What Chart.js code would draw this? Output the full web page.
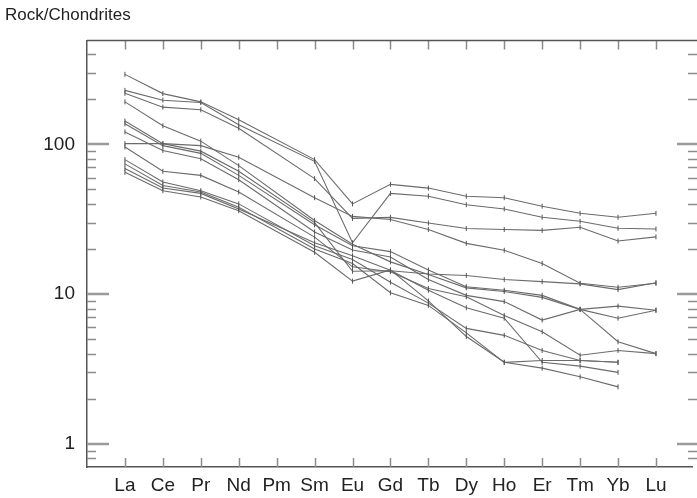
<!DOCTYPE html>
<html>
<head>
<meta charset="utf-8">
<script src="https://cdn.jsdelivr.net/npm/chart.js@4"></script>
<style>
  html, body { margin: 0; padding: 0; background: #fff; }
  #wrap { width: 697px; height: 498px; }
</style>
</head>
<body>
<div id="wrap"><canvas id="chart"></canvas></div>
<script>
// REE elements, chondrite normalized (Pm not analysed)
const categories = ['La', 'Ce', 'Pr', 'Nd', 'Pm', 'Sm', 'Eu', 'Gd', 'Tb', 'Dy', 'Ho', 'Er', 'Tm', 'Yb', 'Lu']

const sampleA = [293, 218, 192, 146, null, 79, 40, 54, 51, 45, 44, 38.6, 34.6, 32.6, 34.6]
const sampleB = [229, 197, 190, 135, null, 77, 22, 47, 45, 39.5, 37, 32.6, 30.6, 27.5, 27.2]
const sampleC = [219, 177, 170, 128, null, 59, 32, 32.5, 29.8, 27.4, 27, 26.6, 27.9, 22.6, 24.1]
const sampleD = [101, 101, 98, 82, null, 44, 33, 31.5, 27, 21.8, 19.6, 16, 11.8, 11.1, 11.8]
const sampleE = [143, 101, 90, 66, null, 30, 14.2, 14.3, 13.6, 13.3, 12.5, 12.1, 11.7, 10.7, 11.9]
const sampleF = [137, 98, 87, 62, null, 29, 21, 19.2, 14.5, 11.2, 10.6, 9.8, 7.9, 6.9, 7.8]
const sampleG = [121, 91, 80, 58, null, 26, 19.7, 17.7, 12.5, 9.8, 8.9, 6.7, 7.9, 8.3, 7.8]
const sampleH = [192, 133, 105, 72, null, 31, 21.5, 16.4, 13.5, 11, 10.4, 9.5, 7.9, 4.8, 4.0]
const sampleI = [96, 66, 62, 48, null, 24, 15.2, 14.1, 10.9, 9.6, 7.2, 5.6, 3.9, 4.2, 4.0]
const sampleJ = [79, 56, 49, 40, null, 21, 17, 12, 8.7, 5.9, 5.3, 4.2, 3.6, 3.5, null]
const sampleK = [74, 53, 48, 38, null, 20, 16, 10.2, 8.4, 5.5, 3.5, 3.6, 3.6, 3.5, null]
const sampleL = [69, 51, 47, 37, null, 22, 18, 14.4, 10.6, 8.1, 6.9, 3.5, 3.3, 3.0, null]
const sampleM = [65, 49, 44.5, 36, null, 19, 12.2, 14.5, 9, 5.2, 3.5, 3.2, 2.8, 2.4, null]

const samples = [sampleA, sampleB, sampleC, sampleD, sampleE, sampleF, sampleG,
                 sampleH, sampleI, sampleJ, sampleK, sampleL, sampleM]

// y axis ticks
const majorTicks = [1, 10, 100]
const minorTicks = [0.8, 0.9, 2, 3, 4, 5, 6, 7, 8, 9, 20, 30, 40, 50, 60, 70, 80, 90, 200, 300, 400]

const FONT = "'Liberation Sans', Arial, sans-serif"

// Frame ticks pointing inward, like the original plot
const innerTicks = {
  id: 'innerTicks',
  afterDraw(chart) {
    const { ctx, chartArea: a, scales } = chart
    const right = chart.width
    ctx.save()
    ctx.lineCap = 'butt'

    ctx.strokeStyle = '#8c8c8c'
    ctx.lineWidth = 1.5
    minorTicks.forEach(v => {
      const y = Math.round(scales.y.getPixelForValue(v)) + 0.5
      ctx.beginPath()
      ctx.moveTo(a.left, y); ctx.lineTo(a.left + 9, y)
      ctx.moveTo(right, y); ctx.lineTo(right - 9, y)
      ctx.stroke()
    })
    categories.forEach((c, i) => {
      const x = Math.round(scales.x.getPixelForValue(i)) + 0.5
      ctx.beginPath()
      ctx.moveTo(x, a.top); ctx.lineTo(x, a.top + 9)
      ctx.moveTo(x, a.bottom); ctx.lineTo(x, a.bottom - 9)
      ctx.stroke()
    })

    ctx.strokeStyle = '#9a9a9a'
    ctx.lineWidth = 2.5
    majorTicks.forEach(v => {
      const y = Math.round(scales.y.getPixelForValue(v))
      ctx.beginPath()
      ctx.moveTo(a.left, y); ctx.lineTo(a.left + 22, y)
      ctx.moveTo(right, y); ctx.lineTo(right - 20, y)
      ctx.stroke()
    })

    // top frame line
    ctx.strokeStyle = '#555'
    ctx.lineWidth = 1.5
    ctx.beginPath()
    ctx.moveTo(a.left, a.top); ctx.lineTo(right, a.top)
    ctx.stroke()
    ctx.restore()
  }
}

const datasets = samples.map((s, n) => ({
  label: 'Sample ' + (n + 1),
  data: s.map((v, i) => ({ x: i, y: v })),
  borderColor: '#6b6b6b',
  borderWidth: 1.1,
  pointStyle: 'line',
  rotation: 90,
  pointRadius: 2.5,
  pointBorderColor: '#555',
  pointBorderWidth: 1,
  spanGaps: true,
  tension: 0
}))

new Chart(document.getElementById('chart'), {
  type: 'line',
  data: { datasets: datasets },
  options: {
    responsive: true,
    maintainAspectRatio: false,
    animation: false,
    layout: { padding: { left: 5, right: 0, top: 0, bottom: 0 } },
    plugins: {
      legend: { display: false },
      tooltip: { enabled: false },
      title: {
        display: true,
        text: 'Rock/Chondrites',
        align: 'start',
        color: '#222',
        font: { family: FONT, size: 17, weight: 'normal' },
        padding: { top: 5, bottom: 15 }
      }
    },
    scales: {
      x: {
        type: 'linear',
        min: -1,
        max: 14.95,
        afterBuildTicks: scale => { scale.ticks = categories.map((c, i) => ({ value: i })) },
        afterFit: scale => { scale.height = 31 },
        ticks: {
          autoSkip: false,
          maxRotation: 0,
          padding: -1,
          color: '#222',
          font: { family: FONT, size: 19 },
          callback: v => categories[v]
        },
        grid: { display: false },
        border: { display: true, color: '#555', width: 1.5 }
      },
      y: {
        type: 'logarithmic',
        min: 0.706,
        max: 494,
        afterBuildTicks: scale => { scale.ticks = majorTicks.map(v => ({ value: v })) },
        afterFit: scale => { scale.width = 82 },
        ticks: {
          padding: 4,
          color: '#222',
          font: { family: FONT, size: 19 },
          callback: v => String(v)
        },
        grid: { display: false },
        border: { display: true, color: '#555', width: 1.5 }
      }
    }
  },
  plugins: [innerTicks]
})
</script>
</body>
</html>
